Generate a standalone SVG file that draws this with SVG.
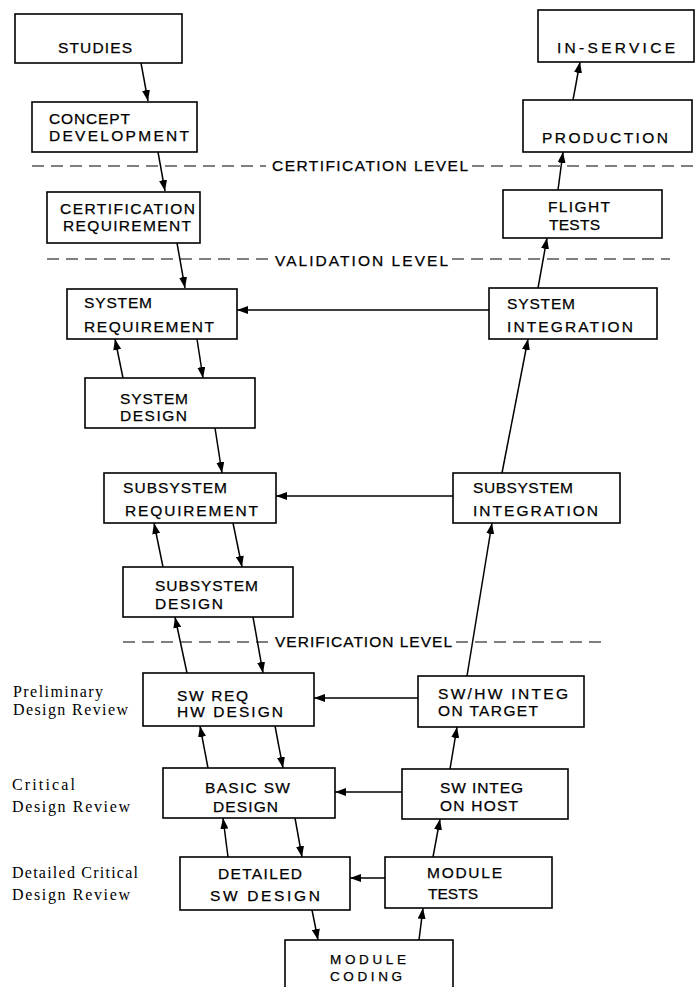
<svg xmlns="http://www.w3.org/2000/svg" width="695" height="987" viewBox="0 0 695 987">
<style>
  .box { fill: #fff; stroke: #000; stroke-width: 1.6; }
  .t { font-family: "Liberation Sans", Arial, sans-serif; font-size: 15.5px; fill: #000; stroke: #000; stroke-width: 0.25; }
  .s { font-size: 13.5px; }
  .lbl { font-family: "Liberation Serif", "Times New Roman", serif; font-size: 16px; fill: #000; }
  .lvl { font-family: "Liberation Sans", Arial, sans-serif; font-size: 15.5px; fill: #000; stroke: #000; stroke-width: 0.25; }
  .dash { stroke: #000; stroke-width: 1.2; stroke-dasharray: 12 7; fill: none; }
  .c { stroke: #000; stroke-width: 1.5; fill: none; marker-end: url(#ah); }
</style>
<defs>
  <marker id="ah" markerUnits="userSpaceOnUse" markerWidth="11" markerHeight="8" refX="11" refY="4" orient="auto">
    <path d="M0,0 L11,4 L0,8 z" fill="#000"/>
  </marker>
</defs>
<rect width="695" height="987" fill="#fff"/>

<g id="levels">
  <line class="dash" x1="32" y1="166" x2="266" y2="166"/>
  <text class="lvl" x="272" y="171" textLength="196">CERTIFICATION LEVEL</text>
  <line class="dash" x1="472" y1="166" x2="695" y2="166"/>
  <line class="dash" x1="47" y1="259" x2="270" y2="259"/>
  <text class="lvl" x="275" y="266" textLength="173">VALIDATION LEVEL</text>
  <line class="dash" x1="452" y1="259" x2="670" y2="259"/>
  <line class="dash" x1="123" y1="642" x2="270" y2="642"/>
  <text class="lvl" x="275" y="647" textLength="177">VERIFICATION LEVEL</text>
  <line class="dash" x1="456" y1="642" x2="603" y2="642"/>
</g>

<g id="review-labels">
  <text class="lbl" x="13" y="697" textLength="90">Preliminary</text>
  <text class="lbl" x="13" y="715" textLength="115">Design Review</text>
  <text class="lbl" x="12" y="790" textLength="63">Critical</text>
  <text class="lbl" x="12" y="812" textLength="118">Design Review</text>
  <text class="lbl" x="12" y="878" textLength="126">Detailed Critical</text>
  <text class="lbl" x="12" y="900" textLength="118">Design Review</text>
</g>

<g id="connectors">
  <line class="c" x1="141" y1="63" x2="148" y2="101"/>
  <line class="c" x1="158" y1="152" x2="165" y2="191"/>
  <line class="c" x1="177" y1="243" x2="185" y2="288"/>
  <line class="c" x1="573" y1="100" x2="580" y2="62"/>
  <line class="c" x1="558" y1="190" x2="563" y2="152"/>
  <line class="c" x1="538" y1="288" x2="547" y2="238"/>
  <line class="c" x1="489" y1="310" x2="237" y2="310"/>
  <line class="c" x1="123" y1="378" x2="115" y2="339"/>
  <line class="c" x1="197" y1="339" x2="203" y2="378"/>
  <line class="c" x1="215" y1="428" x2="222" y2="473"/>
  <line class="c" x1="502" y1="473" x2="528" y2="339"/>
  <line class="c" x1="453" y1="496" x2="276" y2="496"/>
  <line class="c" x1="163" y1="567" x2="154" y2="523"/>
  <line class="c" x1="233" y1="523" x2="242" y2="567"/>
  <line class="c" x1="187" y1="673" x2="175" y2="617"/>
  <line class="c" x1="253" y1="617" x2="263" y2="673"/>
  <line class="c" x1="467" y1="676" x2="492" y2="523"/>
  <line class="c" x1="418" y1="698" x2="314" y2="698"/>
  <line class="c" x1="208" y1="768" x2="200" y2="726"/>
  <line class="c" x1="275" y1="726" x2="283" y2="768"/>
  <line class="c" x1="450" y1="769" x2="457" y2="727"/>
  <line class="c" x1="402" y1="792" x2="335" y2="792"/>
  <line class="c" x1="228" y1="857" x2="223" y2="818"/>
  <line class="c" x1="295" y1="818" x2="302" y2="857"/>
  <line class="c" x1="433" y1="857" x2="440" y2="819"/>
  <line class="c" x1="385" y1="878" x2="350" y2="878"/>
  <line class="c" x1="312" y1="910" x2="318" y2="940"/>
  <line class="c" x1="419" y1="940" x2="423" y2="908"/>
</g>

<g id="studies"><rect class="box" x="15" y="14" width="167" height="49"/>
  <text class="t" x="58" y="53" textLength="74">STUDIES</text></g>
<g id="concept"><rect class="box" x="32" y="102" width="165" height="50"/>
  <text class="t" x="49" y="124" textLength="81">CONCEPT</text>
  <text class="t" x="49" y="141" textLength="140">DEVELOPMENT</text></g>
<g id="certreq"><rect class="box" x="47" y="192" width="153" height="51"/>
  <text class="t" x="60" y="214" textLength="135">CERTIFICATION</text>
  <text class="t" x="63" y="231" textLength="128">REQUIREMENT</text></g>
<g id="inservice"><rect class="box" x="538" y="10" width="156" height="52"/>
  <text class="t" x="557" y="53" textLength="118">IN-SERVICE</text></g>
<g id="production"><rect class="box" x="523" y="100" width="169" height="52"/>
  <text class="t" x="542" y="143" textLength="126">PRODUCTION</text></g>
<g id="flight"><rect class="box" x="503" y="190" width="159" height="48"/>
  <text class="t" x="548" y="212" textLength="62">FLIGHT</text>
  <text class="t" x="549" y="230" textLength="51">TESTS</text></g>
<g id="sysreq"><rect class="box" x="67" y="289" width="170" height="50"/>
  <text class="t" x="84" y="308" textLength="68">SYSTEM</text>
  <text class="t" x="84" y="332" textLength="130">REQUIREMENT</text></g>
<g id="sysinteg"><rect class="box" x="489" y="288" width="168" height="51"/>
  <text class="t" x="507" y="309" textLength="68">SYSTEM</text>
  <text class="t" x="507" y="332" textLength="126">INTEGRATION</text></g>
<g id="sysdesign"><rect class="box" x="85" y="378" width="170" height="50"/>
  <text class="t" x="120" y="404" textLength="68">SYSTEM</text>
  <text class="t" x="120" y="421" textLength="67">DESIGN</text></g>
<g id="subreq"><rect class="box" x="104" y="473" width="172" height="50"/>
  <text class="t" x="123" y="493" textLength="104">SUBSYSTEM</text>
  <text class="t" x="125" y="516" textLength="133">REQUIREMENT</text></g>
<g id="subinteg"><rect class="box" x="453" y="473" width="167" height="50"/>
  <text class="t" x="473" y="493" textLength="100">SUBSYSTEM</text>
  <text class="t" x="473" y="516" textLength="125">INTEGRATION</text></g>
<g id="subdesign"><rect class="box" x="123" y="567" width="170" height="50"/>
  <text class="t" x="155" y="591" textLength="103">SUBSYSTEM</text>
  <text class="t" x="155" y="609" textLength="68">DESIGN</text></g>
<g id="swreq"><rect class="box" x="143" y="673" width="171" height="53"/>
  <text class="t" x="177" y="701" textLength="71">SW REQ</text>
  <text class="t" x="177" y="717" textLength="106">HW DESIGN</text></g>
<g id="swhw"><rect class="box" x="418" y="676" width="166" height="51"/>
  <text class="t" x="438" y="699" textLength="130">SW/HW INTEG</text>
  <text class="t" x="438" y="716" textLength="100">ON TARGET</text></g>
<g id="basic"><rect class="box" x="163" y="768" width="172" height="50"/>
  <text class="t" x="205" y="793" textLength="85">BASIC SW</text>
  <text class="t" x="213" y="812" textLength="65">DESIGN</text></g>
<g id="swinteg"><rect class="box" x="402" y="769" width="166" height="50"/>
  <text class="t" x="440" y="793" textLength="83">SW INTEG</text>
  <text class="t" x="440" y="811" textLength="78">ON HOST</text></g>
<g id="detailed"><rect class="box" x="180" y="857" width="170" height="53"/>
  <text class="t" x="218" y="879" textLength="84">DETAILED</text>
  <text class="t" x="210" y="901" textLength="110">SW DESIGN</text></g>
<g id="modtests"><rect class="box" x="385" y="857" width="167" height="51"/>
  <text class="t" x="427" y="878" textLength="75">MODULE</text>
  <text class="t" x="428" y="899" textLength="50">TESTS</text></g>
<g id="coding"><rect class="box" x="285" y="940" width="168" height="60"/>
  <text class="t s" x="330" y="964" textLength="76">MODULE</text>
  <text class="t s" x="330" y="981" textLength="72">CODING</text></g>
</svg>
